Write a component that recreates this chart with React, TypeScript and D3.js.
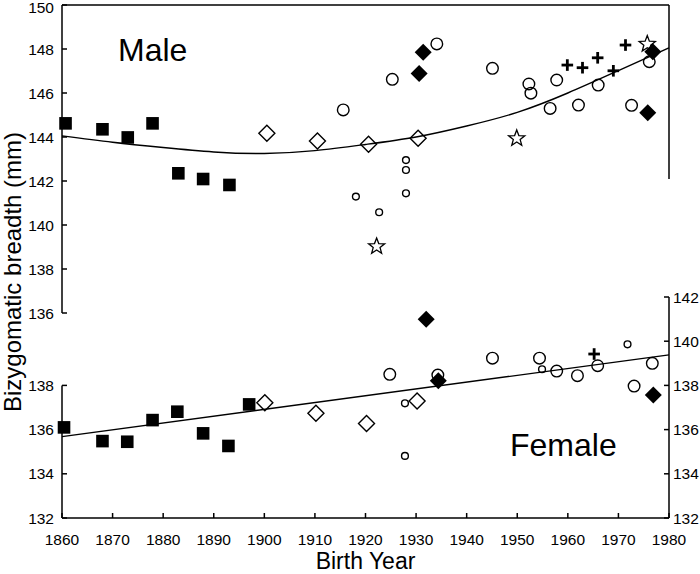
import React from "react";
import * as d3 from "d3";

type Pt = [number, number];

// ---- Male data (year, breadth mm)
const maleSquares: Pt[] = [[1860.7,144.62],[1868.0,144.35],[1873.0,143.98],[1877.9,144.62],[1883.0,142.35],[1887.9,142.09],[1893.1,141.82]];
const maleOpenDiamonds: Pt[] = [[1900.5,144.17],[1910.5,143.82],[1920.6,143.67],[1930.4,143.94]];
const maleBigCircles: Pt[] = [[1915.6,145.23],[1925.3,146.62],[1934.1,148.23],[1945.1,147.12],[1952.3,146.41],[1952.7,145.99],[1957.8,146.59],[1956.5,145.30],[1962.1,145.45],[1966.0,146.36],[1972.6,145.44],[1976.1,147.42]];
const maleSmallCircles: Pt[] = [[1918.1,141.29],[1922.7,140.58],[1928.0,142.95],[1928.0,142.50],[1928.0,141.44]];
const maleFilledDiamonds: Pt[] = [[1931.4,147.85],[1930.6,146.89],[1976.8,147.88],[1975.8,145.10]];
const maleStars: Pt[] = [[1922.2,139.06],[1949.9,143.97],[1975.7,148.26]];
const maleCrosses: Pt[] = [[1959.9,147.27],[1962.9,147.15],[1965.9,147.60],[1969.0,147.01],[1971.4,148.18]];
const maleFit: Pt[] = [[1860,144.05],[1870,143.76],[1880,143.52],[1890,143.32],[1900,143.25],[1910,143.38],[1920,143.66],[1930,144.00],[1940,144.50],[1950,145.12],[1960,146.00],[1970,147.02],[1980,148.05]];

// ---- Female data
const femaleSquares: Pt[] = [[1860.4,136.10],[1868.0,135.48],[1872.9,135.45],[1877.9,136.43],[1882.8,136.81],[1887.9,135.83],[1892.9,135.26],[1897.0,137.14]];
const femaleOpenDiamonds: Pt[] = [[1900.1,137.22],[1910.2,136.74],[1920.2,136.28],[1930.2,137.29]];
const femaleSmallCircles: Pt[] = [[1927.8,137.19],[1927.8,134.81],[1954.9,138.73],[1971.8,139.86]];
const femaleBigCircles: Pt[] = [[1924.8,138.50],[1934.3,138.47],[1945.1,139.23],[1954.4,139.23],[1957.8,138.65],[1961.9,138.44],[1965.9,138.89],[1973.1,137.97],[1976.7,139.00]];
const femaleFilledDiamonds: Pt[] = [[1932.0,140.99],[1934.4,138.21],[1976.9,137.57]];
const femaleCrosses: Pt[] = [[1965.2,139.42]];
const femaleFit: Pt[] = [[1860,135.68],[1980,139.38]];

// ---- Ticks
const yearTicks = [1860,1870,1880,1890,1900,1910,1920,1930,1940,1950,1960,1970,1980];
const maleTicks = [136,138,140,142,144,146,148,150];
const femaleLeftTicks = [132,134,136,138];
const femaleRightTicks = [132,134,136,138,140,142];

const FONT = "'Liberation Sans', Arial, Helvetica, sans-serif";

const x = d3.scaleLinear().domain([1860, 1980]).range([62, 669]);
const yM = d3.scaleLinear().domain([136, 150]).range([313, 5]);
const yF = d3.scaleLinear().domain([132, 142]).range([518, 297]);

function starPath(cx: number, cy: number, R: number, r: number) {
  const pts: string[] = [];
  for (let i = 0; i < 10; i++) {
    const a = -Math.PI / 2 + (i * Math.PI) / 5;
    const rad = i % 2 === 0 ? R : r;
    pts.push(`${cx + rad * Math.cos(a)},${cy + rad * Math.sin(a)}`);
  }
  return "M" + pts.join("L") + "Z";
}

type Kind = "square" | "openDiamond" | "filledDiamond" | "bigCircle" | "smallCircle" | "star" | "cross";

function Marker({ kind, cx, cy }: { kind: Kind; cx: number; cy: number }) {
  const sw = 1.4;
  switch (kind) {
    case "square":
      return <rect x={cx - 6.3} y={cy - 6.3} width={12.6} height={12.6} fill="#000" />;
    case "openDiamond": {
      const h = 8;
      return <path d={`M${cx},${cy - h}L${cx + h},${cy}L${cx},${cy + h}L${cx - h},${cy}Z`} fill="none" stroke="#000" strokeWidth={sw} />;
    }
    case "filledDiamond": {
      const h = 8.5;
      return <path d={`M${cx},${cy - h}L${cx + h},${cy}L${cx},${cy + h}L${cx - h},${cy}Z`} fill="#000" />;
    }
    case "bigCircle":
      return <circle cx={cx} cy={cy} r={5.8} fill="none" stroke="#000" strokeWidth={sw} />;
    case "smallCircle":
      return <circle cx={cx} cy={cy} r={3.4} fill="none" stroke="#000" strokeWidth={sw} />;
    case "star":
      return <path d={starPath(cx, cy + 0.8, 8.5, 3.6)} fill="none" stroke="#000" strokeWidth={1.3} />;
    case "cross":
      return (
        <g stroke="#000" strokeWidth={2.8}>
          <line x1={cx - 5.8} x2={cx + 5.8} y1={cy} y2={cy} />
          <line x1={cx} x2={cx} y1={cy - 5.8} y2={cy + 5.8} />
        </g>
      );
  }
  return null;
}

function Series({ data, kind, y }: { data: Pt[]; kind: Kind; y: d3.ScaleLinear<number, number> }) {
  return (
    <g>
      {data.map((d, i) => (
        <Marker key={i} kind={kind} cx={x(d[0])} cy={y(d[1])} />
      ))}
    </g>
  );
}

export default function App() {
  const maleLine = d3.line<Pt>().x(d => x(d[0])).y(d => yM(d[1])).curve(d3.curveNatural)(maleFit) || "";
  const femaleLine = d3.line<Pt>().x(d => x(d[0])).y(d => yF(d[1]))(femaleFit) || "";
  const axisW = 1.5;
  const tickLen = 5;
  const x0 = x(1860);
  const x1 = x(1980);
  const frameBottom = 179;
  return (
    <svg width={700} height={574} style={{ position: "absolute", left: 0, top: 0, background: "#fff" }} fontFamily={FONT}>
      <rect x={0} y={0} width={700} height={574} fill="#fff" />
      {/* Male frame / axis */}
      <line x1={x0} x2={x0} y1={yM(150)} y2={yM(136)} stroke="#000" strokeWidth={axisW} />
      <line x1={x0} x2={x1} y1={yM(150)} y2={yM(150)} stroke="#000" strokeWidth={axisW} />
      <line x1={x1} x2={x1} y1={yM(150)} y2={frameBottom} stroke="#000" strokeWidth={axisW} />
      {maleTicks.map(t => (
        <g key={"m" + t}>
          <line x1={x0} x2={x0 + tickLen} y1={yM(t)} y2={yM(t)} stroke="#000" strokeWidth={axisW} />
          <text x={x0 - 8} y={Math.max(yM(t), 7)} dy="0.36em" textAnchor="end" fontSize={15.5}>{t}</text>
        </g>
      ))}
      {/* Female axes */}
      <line x1={x0} x2={x0} y1={yF(138)} y2={yF(132)} stroke="#000" strokeWidth={axisW} />
      <line x1={x1} x2={x1} y1={yF(142)} y2={yF(132)} stroke="#000" strokeWidth={axisW} />
      <line x1={x0} x2={x1} y1={yF(132)} y2={yF(132)} stroke="#000" strokeWidth={axisW} />
      {femaleLeftTicks.map(t => (
        <g key={"fl" + t}>
          <line x1={x0} x2={x0 + tickLen} y1={yF(t)} y2={yF(t)} stroke="#000" strokeWidth={axisW} />
          <text x={x0 - 8} y={yF(t)} dy="0.36em" textAnchor="end" fontSize={15.5}>{t}</text>
        </g>
      ))}
      {femaleRightTicks.map(t => (
        <g key={"fr" + t}>
          <line x1={x1} x2={x1 - tickLen} y1={yF(t)} y2={yF(t)} stroke="#000" strokeWidth={axisW} />
          <text x={x1 + 4} y={yF(t)} dy="0.36em" textAnchor="start" fontSize={15.5}>{t}</text>
        </g>
      ))}
      {yearTicks.map(t => (
        <g key={"x" + t}>
          <line x1={x(t)} x2={x(t)} y1={yF(132)} y2={yF(132) - tickLen} stroke="#000" strokeWidth={axisW} />
          <text x={x(t)} y={545} textAnchor="middle" fontSize={15.5}>{t}</text>
        </g>
      ))}
      {/* Fit lines */}
      <path d={maleLine} fill="none" stroke="#000" strokeWidth={1.4} />
      <path d={femaleLine} fill="none" stroke="#000" strokeWidth={1.4} />
      {/* Male markers */}
      <Series data={maleSquares} kind="square" y={yM} />
      <Series data={maleOpenDiamonds} kind="openDiamond" y={yM} />
      <Series data={maleBigCircles} kind="bigCircle" y={yM} />
      <Series data={maleSmallCircles} kind="smallCircle" y={yM} />
      <Series data={maleStars} kind="star" y={yM} />
      <Series data={maleCrosses} kind="cross" y={yM} />
      <Series data={maleFilledDiamonds} kind="filledDiamond" y={yM} />
      {/* Female markers */}
      <Series data={femaleSquares} kind="square" y={yF} />
      <Series data={femaleOpenDiamonds} kind="openDiamond" y={yF} />
      <Series data={femaleBigCircles} kind="bigCircle" y={yF} />
      <Series data={femaleSmallCircles} kind="smallCircle" y={yF} />
      <Series data={femaleCrosses} kind="cross" y={yF} />
      <Series data={femaleFilledDiamonds} kind="filledDiamond" y={yF} />
      {/* Labels */}
      <text x={118} y={61} fontSize={32}>Male</text>
      <text x={510} y={456} fontSize={32}>Female</text>
      <text x={365.5} y={569} textAnchor="middle" fontSize={23}>Birth Year</text>
      <text transform="translate(21,412) rotate(-90)" textAnchor="start" fontSize={24}>Bizygomatic breadth (mm)</text>
    </svg>
  );
}
